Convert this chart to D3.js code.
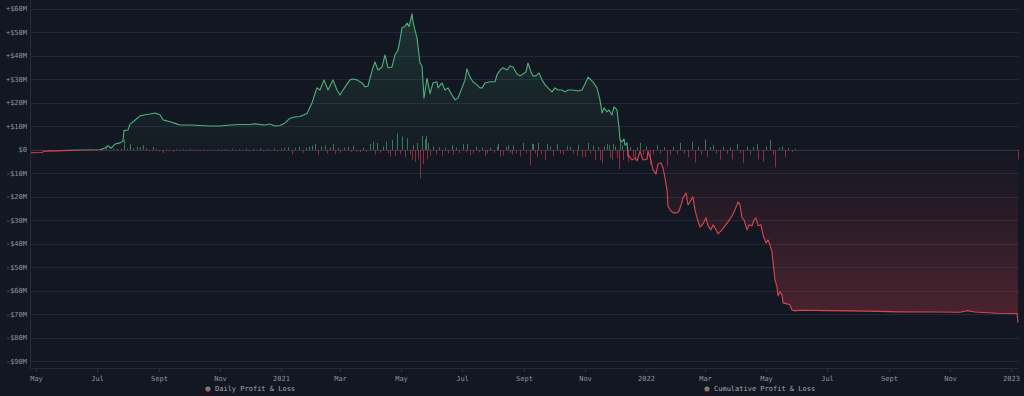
<!DOCTYPE html>
<html><head><meta charset="utf-8">
<script src="https://cdn.jsdelivr.net/npm/d3@7"></script>
<style>
html,body{margin:0;padding:0;background:#131722;}
svg{display:block;}
</style></head>
<body>
<svg id="chart" width="1024" height="396"></svg>
<script>
// ---------- DATA ----------
const cumDates = [
"2020-04-26","2020-05-07","2020-05-09","2020-05-20","2020-06-04","2020-06-16","2020-07-04","2020-07-09","2020-07-12","2020-07-15",
"2020-07-19","2020-07-24","2020-07-27","2020-07-28","2020-08-01","2020-08-03","2020-08-07","2020-08-13","2020-08-18","2020-08-23",
"2020-08-28","2020-09-02","2020-09-05","2020-09-12","2020-09-17","2020-09-22","2020-10-02","2020-10-12","2020-10-22","2020-11-01",
"2020-11-11","2020-11-21","2020-12-01","2020-12-06","2020-12-16","2020-12-21","2020-12-26","2020-12-31","2021-01-05","2021-01-10",
"2021-01-15","2021-01-20","2021-01-27","2021-02-01","2021-02-04","2021-02-06","2021-02-09","2021-02-13","2021-02-17","2021-02-22",
"2021-02-26","2021-03-01","2021-03-04","2021-03-08","2021-03-11","2021-03-14","2021-03-18","2021-03-23","2021-03-26","2021-03-29",
"2021-03-31","2021-04-03","2021-04-05","2021-04-08","2021-04-12","2021-04-15","2021-04-18","2021-04-22","2021-04-25","2021-04-28",
"2021-04-30","2021-05-02","2021-05-05","2021-05-07","2021-05-09","2021-05-12","2021-05-13","2021-05-15","2021-05-17","2021-05-20",
"2021-05-22","2021-05-24","2021-05-27","2021-05-30","2021-06-02","2021-06-06","2021-06-07","2021-06-11","2021-06-14","2021-06-17",
"2021-06-21","2021-06-24","2021-06-27","2021-07-01","2021-07-04","2021-07-06","2021-07-09","2021-07-12","2021-07-16","2021-07-19",
"2021-07-21","2021-07-24","2021-07-29","2021-08-03","2021-08-05","2021-08-08","2021-08-11","2021-08-15","2021-08-18","2021-08-21",
"2021-08-25","2021-08-28","2021-08-31","2021-09-03","2021-09-05","2021-09-08","2021-09-10","2021-09-13","2021-09-16","2021-09-19",
"2021-09-22","2021-09-25","2021-09-29","2021-10-02","2021-10-05","2021-10-09","2021-10-12","2021-10-15","2021-10-20","2021-10-25",
"2021-10-29","2021-10-31","2021-11-03","2021-11-04","2021-11-07","2021-11-09","2021-11-13","2021-11-16","2021-11-18","2021-11-20",
"2021-11-23","2021-11-25","2021-11-28","2021-11-30","2021-12-03","2021-12-05","2021-12-06","2021-12-08","2021-12-10","2021-12-11",
"2021-12-13","2021-12-14","2021-12-18","2021-12-21","2021-12-23","2021-12-26","2021-12-29","2022-01-02","2022-01-03","2022-01-06",
"2022-01-08","2022-01-11","2022-01-13","2022-01-16","2022-01-18","2022-01-20","2022-01-22","2022-01-23","2022-01-25","2022-01-28",
"2022-02-01","2022-02-03","2022-02-06","2022-02-07","2022-02-10","2022-02-12","2022-02-15","2022-02-17","2022-02-19","2022-02-21",
"2022-02-24","2022-02-27","2022-03-02","2022-03-04","2022-03-07","2022-03-09","2022-03-12","2022-03-14","2022-03-18","2022-03-21",
"2022-03-24","2022-03-28","2022-03-31","2022-04-03","2022-04-05","2022-04-07","2022-04-09","2022-04-12","2022-04-14","2022-04-17",
"2022-04-19","2022-04-21","2022-04-23","2022-04-26","2022-04-28","2022-05-01","2022-05-03","2022-05-05","2022-05-07","2022-05-08",
"2022-05-10","2022-05-12","2022-05-13","2022-05-15","2022-05-17","2022-05-18","2022-05-22","2022-05-25","2022-05-27","2022-05-30",
"2022-06-04","2022-07-04","2022-08-10","2022-09-12","2022-10-15","2022-11-11","2022-11-18","2022-11-26","2022-12-18","2023-01-07",
"2023-01-08"
];
const cumValues = [
-1.2,-1.1,-0.5,-0.4,-0.2,0,0.1,0.8,1.8,0.7,
2.5,3.0,3.8,8.2,8.5,11.0,12.3,14.5,15.0,15.3,
15.7,15.0,12.8,12.0,11.3,10.6,10.6,10.4,10.2,10.2,
10.6,10.8,10.8,11.1,10.6,11.0,10.2,10.4,11.5,13.5,
14.0,14.2,15.5,20.0,24.0,26.4,25.5,29.8,25.5,29.8,
25.5,23.4,25.5,28.0,29.8,30.2,29.8,28.5,26.8,27.2,
30.6,35.0,37.4,34.0,35.3,40.4,35.0,35.3,40.4,42.5,
46.8,52.0,52.5,54.0,52.5,57.9,54.5,51.0,47.7,37.0,
35.7,22.0,30.5,24.0,28.5,29.0,26.4,28.5,25.5,26.4,
23.4,21.3,22.1,26.4,29.8,34.5,31.0,29.0,27.7,26.4,
26.4,28.5,29.0,29.0,32.0,34.0,35.0,34.0,35.7,35.3,
32.3,31.5,32.3,33.2,37.0,33.2,31.5,31.5,32.8,29.8,
27.7,26.4,24.7,26.4,25.5,25.5,24.7,25.5,25.5,25.1,
25.5,27.2,29.8,31.0,29.8,28.9,26.4,21.3,15.7,17.9,
16.2,17.0,14.9,18.3,17.0,9.4,4.3,3.4,4.7,2.0,
3.0,-2.0,-4.3,-3.4,-4.7,-0.5,-4.3,-4.0,-0.5,-4.3,
-8.5,-10.2,-6.0,-5.5,-7.7,-11.9,-17.0,-24.0,-25.5,-26.8,
-26.8,-26.0,-22.1,-20.4,-18.3,-23.4,-21.3,-20.0,-25.5,-28.9,
-32.8,-31.5,-28.9,-32.3,-34.0,-31.9,-34.0,-35.7,-34.0,-32.3,
-30.6,-28.1,-25.5,-22.1,-23.4,-28.9,-29.8,-34.0,-31.9,-32.3,
-29.8,-28.9,-32.3,-31.9,-36.2,-39.6,-38.3,-40.4,-43.4,-47.7,
-55.3,-58.3,-62.1,-60.4,-61.7,-65.1,-65.5,-66.0,-68.1,-68.5,
-68.2,-68.4,-68.6,-68.9,-69.0,-69.1,-68.4,-69.0,-69.5,-69.6,
-73.5
];

const dailyDates = [
"2020-04-28","2020-05-05","2020-05-13","2020-05-21","2020-05-29","2020-06-06","2020-06-14","2020-06-22","2020-06-30","2020-07-06",
"2020-07-10","2020-07-13","2020-07-17","2020-07-21","2020-07-25","2020-07-28","2020-07-31","2020-08-03","2020-08-06","2020-08-10",
"2020-08-13","2020-08-16","2020-08-19","2020-08-22","2020-08-25","2020-08-26","2020-08-29","2020-09-01","2020-09-05","2020-09-08",
"2020-09-11","2020-09-15","2020-09-18","2020-09-21","2020-09-25","2020-09-28","2020-10-02","2020-10-05","2020-10-09","2020-10-12",
"2020-10-16","2020-10-19","2020-10-23","2020-10-26","2020-10-30","2020-11-02","2020-11-06","2020-11-09","2020-11-13","2020-11-16",
"2020-11-20","2020-11-23","2020-11-27","2020-11-30","2020-12-04","2020-12-07","2020-12-11","2020-12-14","2020-12-18","2020-12-21",
"2020-12-25","2020-12-28","2021-01-01","2021-01-04","2021-01-08","2021-01-12","2021-01-15","2021-01-19","2021-01-23","2021-01-26",
"2021-01-29","2021-02-01","2021-02-04","2021-02-07","2021-02-10","2021-02-14","2021-02-16","2021-02-19","2021-02-22","2021-02-24",
"2021-02-27","2021-03-01","2021-03-05","2021-03-09","2021-03-12","2021-03-14","2021-03-17","2021-03-21","2021-03-24","2021-03-27",
"2021-03-31","2021-04-03","2021-04-05","2021-04-07","2021-04-10","2021-04-13","2021-04-16","2021-04-18","2021-04-20","2021-04-22",
"2021-04-25","2021-04-27","2021-04-30","2021-05-02","2021-05-05","2021-05-07","2021-05-10","2021-05-12","2021-05-13","2021-05-15",
"2021-05-17","2021-05-18","2021-05-20","2021-05-22","2021-05-23","2021-05-25","2021-05-26","2021-05-27","2021-05-28","2021-05-30",
"2021-06-02","2021-06-05","2021-06-08","2021-06-11","2021-06-14","2021-06-17","2021-06-21","2021-06-22","2021-06-25","2021-06-28",
"2021-07-02","2021-07-05","2021-07-06","2021-07-09","2021-07-12","2021-07-15","2021-07-18","2021-07-21","2021-07-24","2021-07-26",
"2021-07-29","2021-08-02","2021-08-05","2021-08-06","2021-08-08","2021-08-11","2021-08-14","2021-08-16","2021-08-18","2021-08-20",
"2021-08-21","2021-08-24","2021-08-28","2021-08-31","2021-09-03","2021-09-07","2021-09-09","2021-09-10","2021-09-12","2021-09-14",
"2021-09-15","2021-09-18","2021-09-22","2021-09-24","2021-09-27","2021-09-30","2021-10-04","2021-10-07","2021-10-10","2021-10-14",
"2021-10-17","2021-10-20","2021-10-24","2021-10-25","2021-10-29","2021-11-01","2021-11-04","2021-11-06","2021-11-09","2021-11-11",
"2021-11-14","2021-11-16","2021-11-18","2021-11-20","2021-11-23","2021-11-25","2021-11-26","2021-11-28","2021-11-29","2021-12-01",
"2021-12-03","2021-12-05","2021-12-06","2021-12-08","2021-12-09","2021-12-13","2021-12-14","2021-12-16","2021-12-19","2021-12-21",
"2021-12-23","2021-12-26","2021-12-29","2022-01-01","2022-01-05","2022-01-08","2022-01-12","2022-01-15","2022-01-19","2022-01-22",
"2022-01-25","2022-01-28","2022-02-01","2022-02-04","2022-02-08","2022-02-12","2022-02-16","2022-02-19","2022-02-22","2022-02-25",
"2022-03-01","2022-03-03","2022-03-06","2022-03-09","2022-03-12","2022-03-16","2022-03-19","2022-03-23","2022-03-26","2022-03-28",
"2022-04-02","2022-04-05","2022-04-08","2022-04-12","2022-04-15","2022-04-18","2022-04-22","2022-04-23","2022-04-28","2022-05-01",
"2022-05-05","2022-05-08","2022-05-10","2022-05-14","2022-05-17","2022-05-20","2022-05-23","2022-05-27","2022-05-30","2022-06-04",
"2022-07-04","2022-08-13","2022-09-22","2022-11-01","2022-12-11","2023-01-08"
];
const dailyValues = [
-0.3,-0.2,-0.3,-0.2,-0.2,-0.1,0.1,0.2,0.1,0.3,
0.9,-0.6,0.6,0.4,0.5,4.4,0.5,2.5,0.6,1.3,
1.2,2.0,0.7,-0.5,-0.5,1.3,0.4,-0.6,-1.3,0.3,
-0.4,-0.8,0.3,-0.4,0.3,-0.3,0.4,-0.5,0.2,-0.3,
0.3,-0.4,0.2,-0.3,0.3,-0.5,0.4,-0.3,0.5,-0.4,
0.3,-0.3,0.5,-0.6,0.4,-0.3,0.6,-0.5,0.4,-0.4,
0.6,-0.6,0.5,0.9,1.2,-1.7,0.9,1.3,-1.2,1.0,
1.4,1.8,2.5,-2.0,1.5,2.0,-1.5,1.0,2.5,-1.8,
0.8,-1.2,1.0,1.3,-0.8,1.8,-0.7,-1.0,0.9,-0.8,
2.5,3.5,-2.0,3.0,-1.2,1.5,3.5,-1.5,-2.8,4.3,
-2.5,7.0,-1.8,5.7,-3.0,5.0,-2.0,-4.3,2.0,-5.0,
3.0,-4.0,-12.0,6.0,-6.0,4.5,6.0,-4.0,3.0,-2.5,
1.5,-1.8,1.2,-2.4,1.0,-1.5,2.0,-2.0,1.0,-1.3,
2.5,-1.2,2.5,-2.2,-1.5,1.3,-1.0,1.0,-2.5,-1.5,
1.0,-1.2,1.5,2.7,-2.7,-2.4,1.2,2.0,-1.3,-2.0,
2.0,-1.5,-2.7,3.0,-1.5,-6.4,2.7,2.5,-1.5,-3.0,
3.0,-1.8,-4.3,2.5,1.5,-2.7,2.5,-1.5,-2.0,1.8,
1.3,-1.5,-2.5,2.1,-3.1,-3.0,3.0,-1.5,1.8,-4.3,
1.2,-4.3,-5.7,1.5,2.5,2.0,-3.5,-4.3,2.5,1.5,
-3.6,-8.2,4.5,2.0,-4.3,-3.0,-5.0,1.2,-3.0,-4.0,
1.0,3.0,-2.0,1.5,-6.4,-2.0,2.0,-1.5,1.2,-7.0,
-2.0,1.3,-1.8,3.0,-1.5,-3.0,3.5,-5.4,1.5,-2.0,
4.5,-3.0,1.2,2.0,-1.5,-4.0,1.3,-1.8,1.0,-4.0,
2.5,-1.5,-5.7,1.5,-2.0,1.2,2.5,-4.0,-5.0,1.5,
4.3,-2.0,-7.4,1.0,1.5,-3.0,0.8,-1.0,0.5,0.1,
-0.1,0.1,-0.1,0.1,-0.1,-4.0
];

const xTickDates = ["2020-05-01","2020-07-01","2020-09-01","2020-11-01","2021-01-01","2021-03-01","2021-05-01","2021-07-01","2021-09-01","2021-11-01","2022-01-01","2022-03-01","2022-05-01","2022-07-01","2022-09-01","2022-11-01","2023-01-01"];
const xTickLabels = ["May","Jul","Sept","Nov","2021","Mar","May","Jul","Sept","Nov","2022","Mar","May","Jul","Sept","Nov","2023"];
const yTicks = [-90,-80,-70,-60,-50,-40,-30,-20,-10,0,10,20,30,40,50,60];
const legendLabels = ["Daily Profit & Loss","Cumulative Profit & Loss"];

// ---------- CHART ----------
(function draw(){
const parse = d3.timeParse("%Y-%m-%d");
const cum = cumDates.map((d,i)=>({date:parse(d), v:cumValues[i]}));
const daily = dailyDates.map((d,i)=>({date:parse(d), v:dailyValues[i]}));

const pL = 31, pR = 1019, pT = 0, pB = 368;
const FONT = "'DejaVu Sans Mono', monospace";
const GREEN = "#4fae79", RED = "#d8444f";

const x = d3.scaleTime().domain([parse("2020-04-26"), parse("2023-01-08")]).range([31, 1018]);
const y = d3.scaleLinear().domain([-92.8, 63.8]).range([pB, pT]);

const svg = d3.select("#chart");
svg.append("rect").attr("width",1024).attr("height",396).attr("fill","#131722");

const defs = svg.append("defs");
const zf = (y(0)-pT)/(pB-pT);
const lg = defs.append("linearGradient").attr("id","lineGrad").attr("gradientUnits","userSpaceOnUse")
  .attr("x1",0).attr("x2",0).attr("y1",pT).attr("y2",pB);
lg.append("stop").attr("offset",0).attr("stop-color",GREEN);
lg.append("stop").attr("offset",zf).attr("stop-color",GREEN);
lg.append("stop").attr("offset",zf).attr("stop-color",RED);
lg.append("stop").attr("offset",1).attr("stop-color",RED);

const ag = defs.append("linearGradient").attr("id","areaGrad").attr("gradientUnits","userSpaceOnUse")
  .attr("x1",0).attr("x2",0).attr("y1",pT).attr("y2",pB);
ag.append("stop").attr("offset",0).attr("stop-color","#3f9a68").attr("stop-opacity",0.24);
ag.append("stop").attr("offset",zf).attr("stop-color","#3f9a68").attr("stop-opacity",0.03);
ag.append("stop").attr("offset",zf).attr("stop-color","#d0404c").attr("stop-opacity",0.0);
ag.append("stop").attr("offset",y(-70)/pB).attr("stop-color","#d0404c").attr("stop-opacity",0.29);
ag.append("stop").attr("offset",1).attr("stop-color","#d0404c").attr("stop-opacity",0.36);

// grid
svg.append("g").selectAll("line").data(yTicks).join("line")
  .attr("x1",pL).attr("x2",pR)
  .attr("y1",d=>Math.round(y(d))+0.5).attr("y2",d=>Math.round(y(d))+0.5)
  .attr("stroke","#22263a").attr("stroke-width",1);
svg.append("line").attr("x1",pL-0.5).attr("x2",pL-0.5).attr("y1",0).attr("y2",pB+0.5)
  .attr("stroke","#252a3a");
svg.append("line").attr("x1",pL).attr("x2",pR).attr("y1",pB+0.5).attr("y2",pB+0.5)
  .attr("stroke","#252a3a");

// y labels
svg.append("g").selectAll("text").data(yTicks).join("text")
  .attr("x",27).attr("y",d=>y(d)).attr("dy","0.35em")
  .attr("text-anchor","end").attr("font-family",FONT).attr("font-size",7)
  .attr("fill","#8f939c")
  .text(d=> d===0 ? "$0" : (d>0 ? "+$"+d+"M" : "-$"+Math.abs(d)+"M"));

// x axis
const xAxis = d3.axisBottom(x)
  .tickValues(xTickDates.map(parse))
  .tickFormat((d,i)=>xTickLabels[i])
  .tickSizeInner(3).tickSizeOuter(0).tickPadding(4);
const gx = svg.append("g").attr("transform",`translate(0,${pB+1})`).call(xAxis);
gx.select(".domain").remove();
gx.selectAll(".tick line").attr("stroke","#2c3040");
gx.selectAll(".tick text").attr("font-family",FONT).attr("font-size",7).attr("fill","#8f939c");

// area
const area = d3.area().x(d=>x(d.date)).y0(y(0)).y1(d=>y(d.v));
svg.append("path").datum(cum).attr("d",area).attr("fill","url(#areaGrad)");

// zero line
svg.append("line").attr("x1",pL).attr("x2",1018).attr("y1",y(0)+0.5).attr("y2",y(0)+0.5)
  .attr("stroke","#3a3340").attr("stroke-width",1);

// daily bars
svg.append("g").selectAll("rect").data(daily).join("rect")
  .attr("x",d=>Math.round(x(d.date)))
  .attr("width",1)
  .attr("y",d=>d.v>=0 ? y(d.v) : y(0))
  .attr("height",d=>Math.abs(y(d.v)-y(0)))
  .attr("fill",d=>d.v>=0 ? "#3e8a5f" : "#a3323f")
  .attr("opacity",0.85);

// cumulative line
const line = d3.line().x(d=>x(d.date)).y(d=>y(d.v));
svg.append("path").datum(cum).attr("d",line).attr("fill","none")
  .attr("stroke","url(#lineGrad)").attr("stroke-width",1.1).attr("stroke-linejoin","round");

// legend
const legendX = [208, 707];
const lgd = svg.append("g");
legendLabels.forEach((lab,i)=>{
  const cx = legendX[i], cy = 389;
  const arcTop = d3.arc()({innerRadius:0,outerRadius:2.6,startAngle:-Math.PI/2,endAngle:Math.PI/2});
  const arcBot = d3.arc()({innerRadius:0,outerRadius:2.6,startAngle:Math.PI/2,endAngle:3*Math.PI/2});
  lgd.append("path").attr("d",arcTop).attr("transform",`translate(${cx},${cy})`).attr("fill","#3fa66e");
  lgd.append("path").attr("d",arcBot).attr("transform",`translate(${cx},${cy})`).attr("fill","#d8444f");
  lgd.append("text").attr("x",cx+7).attr("y",cy).attr("dy","0.35em")
    .attr("font-family",FONT).attr("font-size",7).attr("fill","#a5a8b0").text(lab);
});
})();
</script>
</body></html>
